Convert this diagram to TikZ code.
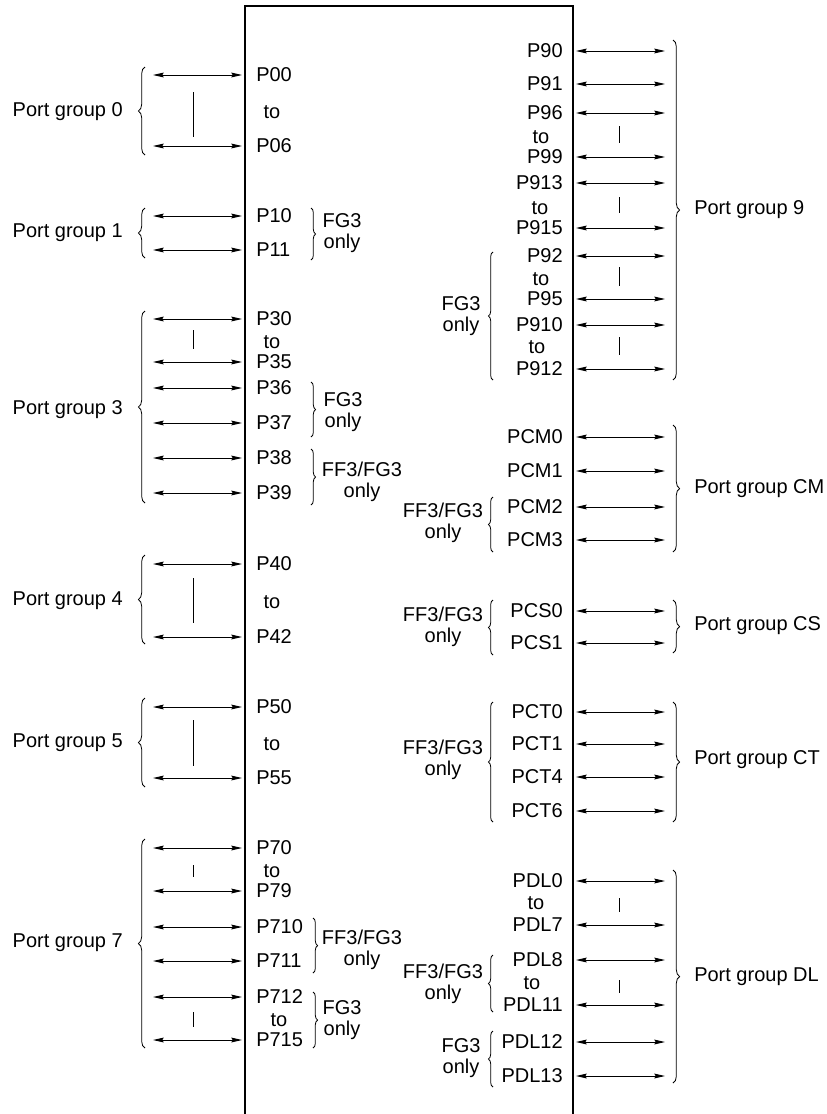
\documentclass[tikz,border=0pt]{standalone}
\usepackage{fontspec}
\setmainfont{Liberation Sans}
\usetikzlibrary{arrows.meta,decorations.pathreplacing}
\tikzset{
  lbl/.style={inner sep=0pt,font=\fontsize{15}{16}\selectfont},
  note/.style={inner sep=0pt,align=center,font=\fontsize{15}{16}\selectfont},
  pin/.style={line width=0.75pt,{Stealth[length=8pt,width=3.6pt,inset=1pt]}-{Stealth[length=8pt,width=3.6pt,inset=1pt]}},
  bar/.style={line width=0.75pt},
  gbrace/.style={line width=0.6pt,decorate,decoration={brace,amplitude=5pt}},
  obrace/.style={line width=0.6pt,decorate,decoration={brace,amplitude=3.5pt}},
  chip/.style={line width=1.6pt}
}
\newcommand\larr[2]{\coordinate (#1a) at (153,#2); \coordinate (#1b) at (242,#2); \draw[pin] (#1a) -- (#1b);}
\newcommand\rarr[2]{\coordinate (#1a) at (576,#2); \coordinate (#1b) at (665,#2); \draw[pin] (#1a) -- (#1b);}
\newcommand\vbar[4]{\coordinate (#1a) at (#2,#3); \coordinate (#1b) at (#2,#4); \draw[bar] (#1a) -- (#1b);}
\newcommand\brc[5]{\coordinate (#1a) at (#3,#4); \coordinate (#1b) at (#3,#5); \draw[#2] (#1a) -- (#1b);}
\begin{document}
\begin{tikzpicture}[x=0.75pt,y=-0.75pt]
\useasboundingbox (0,0) rectangle (826,1114);
% chip body
\coordinate (cbl) at (245,1114);
\coordinate (ctl) at (245,6);
\coordinate (ctr) at (573,6);
\coordinate (cbr) at (573,1114);
\draw[chip] (cbl) -- (ctl) -- (ctr) -- (cbr);

% ---------------- left side ----------------
% group 0
\larr{a00}{75} \larr{a06}{146}
\vbar{b0}{193}{92}{137}
\node[lbl,anchor=west] (P00) at (256,75) {P00};
\node[lbl] (to0) at (272,112) {to};
\node[lbl,anchor=west] (P06) at (256,146) {P06};
\brc{g0}{gbrace}{145}{155}{67}
\node[lbl,anchor=east] (G0) at (123,112) {Port group 0};
% group 1
\larr{a10}{216} \larr{a11}{250}
\node[lbl,anchor=west] (P10) at (256,216) {P10};
\node[lbl,anchor=west] (P11) at (256,250) {P11};
\brc{g1}{gbrace}{145}{258}{208}
\node[lbl,anchor=east] (G1) at (123,233) {Port group 1};
\brc{o1}{obrace}{311}{208}{260}
\node[note] (N1) at (342,233) {FG3\\only};
% group 3
\larr{a30}{319} \larr{a35}{362} \larr{a36}{388} \larr{a37}{423} \larr{a38}{458} \larr{a39}{493}
\vbar{b3}{193}{330}{349}
\node[lbl,anchor=west] (P30) at (256,319) {P30};
\node[lbl] (to3) at (272,342) {to};
\node[lbl,anchor=west] (P35) at (256,362) {P35};
\node[lbl,anchor=west] (P36) at (256,388) {P36};
\node[lbl,anchor=west] (P37) at (256,423) {P37};
\node[lbl,anchor=west] (P38) at (256,458) {P38};
\node[lbl,anchor=west] (P39) at (256,493) {P39};
\brc{g3}{gbrace}{145}{503}{311}
\node[lbl,anchor=east] (G3) at (123,410) {Port group 3};
\brc{o3a}{obrace}{311}{382}{437}
\node[note] (N3a) at (343,412) {FG3\\only};
\brc{o3b}{obrace}{311}{449}{505}
\node[note] (N3b) at (362,482) {FF3/FG3\\only};
% group 4
\larr{a40}{564} \larr{a42}{637}
\vbar{b4}{193}{578}{623}
\node[lbl,anchor=west] (P40) at (256,564) {P40};
\node[lbl] (to4) at (272,602) {to};
\node[lbl,anchor=west] (P42) at (256,637) {P42};
\brc{g4}{gbrace}{145}{644}{555}
\node[lbl,anchor=east] (G4) at (123,601) {Port group 4};
% group 5
\larr{a50}{707} \larr{a55}{778}
\vbar{b5}{193}{720}{766}
\node[lbl,anchor=west] (P50) at (256,707) {P50};
\node[lbl] (to5) at (272,744) {to};
\node[lbl,anchor=west] (P55) at (256,778) {P55};
\brc{g5}{gbrace}{145}{787}{698}
\node[lbl,anchor=east] (G5) at (123,743) {Port group 5};
% group 7
\larr{a70}{848} \larr{a79}{891} \larr{a710}{927} \larr{a711}{961} \larr{a712}{997} \larr{a715}{1040}
\vbar{b7a}{193}{865}{877}
\vbar{b7b}{193}{1012}{1027}
\node[lbl,anchor=west] (P70) at (256,848) {P70};
\node[lbl] (to7a) at (272,871) {to};
\node[lbl,anchor=west] (P79) at (256,891) {P79};
\node[lbl,anchor=west] (P710) at (256,927) {P710};
\node[lbl,anchor=west] (P711) at (256,961) {P711};
\node[lbl,anchor=west] (P712) at (256,997) {P712};
\node[lbl] (to7b) at (279,1020) {to};
\node[lbl,anchor=west] (P715) at (256,1040) {P715};
\brc{g7}{gbrace}{145}{1048}{839}
\node[lbl,anchor=east] (G7) at (123,943) {Port group 7};
\brc{o7a}{obrace}{313}{918}{973}
\node[note] (N7a) at (362,950) {FF3/FG3\\only};
\brc{o7b}{obrace}{313}{992}{1048}
\node[note] (N7b) at (342,1020) {FG3\\only};

% ---------------- right side ----------------
% group 9
\rarr{a90}{51} \rarr{a91}{84} \rarr{a96}{113} \rarr{a99}{157} \rarr{a913}{183} \rarr{a915}{228}
\rarr{a92}{256} \rarr{a95}{299} \rarr{a910}{325} \rarr{a912}{369}
\vbar{b9a}{619}{126}{143}
\vbar{b9b}{619}{197}{213}
\vbar{b9c}{619}{267}{286}
\vbar{b9d}{619}{337}{355}
\node[lbl,anchor=east] (P90) at (563,51) {P90};
\node[lbl,anchor=east] (P91) at (563,84) {P91};
\node[lbl,anchor=east] (P96) at (563,113) {P96};
\node[lbl] (to9a) at (541,137) {to};
\node[lbl,anchor=east] (P99) at (563,157) {P99};
\node[lbl,anchor=east] (P913) at (563,183) {P913};
\node[lbl] (to9b) at (540,208) {to};
\node[lbl,anchor=east] (P915) at (563,228) {P915};
\node[lbl,anchor=east] (P92) at (563,256) {P92};
\node[lbl] (to9c) at (541,279) {to};
\node[lbl,anchor=east] (P95) at (563,299) {P95};
\node[lbl,anchor=east] (P910) at (563,325) {P910};
\node[lbl] (to9d) at (537,347) {to};
\node[lbl,anchor=east] (P912) at (563,369) {P912};
\brc{g9}{gbrace}{673}{40}{380}
\node[lbl,anchor=west] (G9) at (694,210) {Port group 9};
\brc{o9}{obrace}{493}{380}{252}
\node[note] (N9) at (461,316) {FG3\\only};
% group CM
\rarr{cm0}{437} \rarr{cm1}{471} \rarr{cm2}{507} \rarr{cm3}{540}
\node[lbl,anchor=east] (PCM0) at (563,437) {PCM0};
\node[lbl,anchor=east] (PCM1) at (563,471) {PCM1};
\node[lbl,anchor=east] (PCM2) at (563,507) {PCM2};
\node[lbl,anchor=east] (PCM3) at (563,540) {PCM3};
\brc{gcm}{gbrace}{673}{425}{552}
\node[lbl,anchor=west] (GCM) at (694,489) {Port group CM};
\brc{ocm}{obrace}{493}{552}{497}
\node[note] (NCM) at (443,523) {FF3/FG3\\only};
% group CS
\rarr{cs0}{611} \rarr{cs1}{643}
\node[lbl,anchor=east] (PCS0) at (563,611) {PCS0};
\node[lbl,anchor=east] (PCS1) at (563,643) {PCS1};
\brc{gcs}{gbrace}{673}{600}{653}
\node[lbl,anchor=west] (GCS) at (694,626) {Port group CS};
\brc{ocs}{obrace}{493}{655}{600}
\node[note] (NCS) at (443,627) {FF3/FG3\\only};
% group CT
\rarr{ct0}{712} \rarr{ct1}{744} \rarr{ct4}{777} \rarr{ct6}{811}
\node[lbl,anchor=east] (PCT0) at (563,712) {PCT0};
\node[lbl,anchor=east] (PCT1) at (563,744) {PCT1};
\node[lbl,anchor=east] (PCT4) at (563,777) {PCT4};
\node[lbl,anchor=east] (PCT6) at (563,811) {PCT6};
\brc{gct}{gbrace}{673}{702}{822}
\node[lbl,anchor=west] (GCT) at (694,760) {Port group CT};
\brc{oct}{obrace}{493}{822}{702}
\node[note] (NCT) at (443,760) {FF3/FG3\\only};
% group DL
\rarr{dl0}{881} \rarr{dl7}{925} \rarr{dl8}{960} \rarr{dl11}{1005} \rarr{dl12}{1042} \rarr{dl13}{1076}
\vbar{bdla}{619}{898}{912}
\vbar{bdlb}{619}{980}{993}
\node[lbl,anchor=east] (PDL0) at (563,881) {PDL0};
\node[lbl] (todla) at (536,903) {to};
\node[lbl,anchor=east] (PDL7) at (563,925) {PDL7};
\node[lbl,anchor=east] (PDL8) at (563,960) {PDL8};
\node[lbl] (todlb) at (532,983) {to};
\node[lbl,anchor=east] (PDL11) at (563,1005) {PDL11};
\node[lbl,anchor=east] (PDL12) at (563,1042) {PDL12};
\node[lbl,anchor=east] (PDL13) at (563,1076) {PDL13};
\brc{gdl}{gbrace}{673}{870}{1083}
\node[lbl,anchor=west] (GDL) at (694,977) {Port group DL};
\brc{odla}{obrace}{493}{1012}{955}
\node[note] (NDLa) at (443,984) {FF3/FG3\\only};
\brc{odlb}{obrace}{493}{1087}{1031}
\node[note] (NDLb) at (461,1058) {FG3\\only};
\end{tikzpicture}
\end{document}
